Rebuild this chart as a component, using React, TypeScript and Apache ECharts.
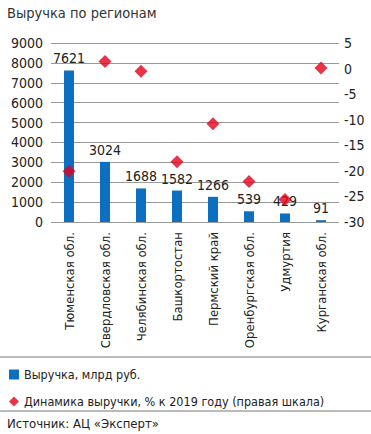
import React, { useEffect, useRef } from "react";
import * as echarts from "echarts";

const categories = [
  "Тюменская обл.",
  "Свердловская обл.",
  "Челябинская обл.",
  "Башкортостан",
  "Пермский край",
  "Оренбургская обл.",
  "Удмуртия",
  "Курганская обл.",
];
const revenue = [7621, 3024, 1688, 1582, 1266, 539, 429, 91];
const dynamics = [-20.1, 1.4, -0.5, -18.2, -10.8, -22.1, -25.6, 0.1];

const titleText = "Выручка по регионам";
const barName = "Выручка, млрд руб.";
const scatterName = "Динамика выручки, % к 2019 году (правая шкала)";
const sourceText = "Источник: АЦ «Эксперт»";

const FONT = '"Liberation Sans Narrow", "DejaVu Sans Condensed", "Roboto Condensed", "Roboto", sans-serif';

export default function App() {
  const ref = useRef<HTMLDivElement>(null);
  useEffect(() => {
    if (!ref.current) return;
    const chart = echarts.init(ref.current, undefined, { renderer: "svg" });
    chart.setOption({
      animation: false,
      backgroundColor: "#ffffff",
      textStyle: { fontFamily: FONT },
      title: {
        text: titleText,
        left: 7,
        top: 5,
        padding: 0,
        textStyle: { fontFamily: FONT, fontSize: 14.5, fontWeight: "normal", color: "#333" },
      },
      grid: { left: 51, right: 32, top: 43, bottom: 212 },
      legend: {
        orient: "vertical",
        left: 9,
        top: 368,
        padding: 0,
        itemGap: 14,
        itemWidth: 10,
        itemHeight: 10,
        textStyle: { fontFamily: FONT, fontSize: 12.5, color: "#222" },
        data: [
          { name: barName, icon: "rect" },
          { name: scatterName, icon: "diamond" },
        ],
      },
      xAxis: {
        type: "category",
        data: categories,
        axisLine: { show: false },
        axisTick: { show: false },
        axisLabel: {
          rotate: 90,
          fontSize: 13,
          color: "#222",
          margin: 10,
          fontFamily: FONT,
        },
      },
      yAxis: [
        {
          type: "value",
          min: 0,
          max: 9000,
          interval: 1000,
          axisLine: { show: false },
          axisTick: { show: false },
          axisLabel: {
            fontSize: 14,
            color: "#222",
            margin: 8,
            fontFamily: FONT,
            formatter: (v: number) => String(v),
          },
          splitLine: { lineStyle: { color: "#999999", width: 1 } },
        },
        {
          type: "value",
          min: -30,
          max: 5,
          interval: 5,
          position: "right",
          axisLine: { show: false },
          axisTick: { show: false },
          axisLabel: {
            fontSize: 14,
            color: "#222",
            margin: 5,
            fontFamily: FONT,
            formatter: (v: number) => String(v),
          },
          splitLine: { show: false },
        },
      ],
      series: [
        {
          name: barName,
          type: "bar",
          data: revenue,
          barWidth: 10,
          itemStyle: { color: "#0d6fbf" },
          label: {
            show: true,
            position: "top",
            fontSize: 14,
            color: "#222",
            distance: 5,
            fontFamily: FONT,
          },
        },
        {
          name: scatterName,
          type: "scatter",
          yAxisIndex: 1,
          data: dynamics,
          symbol: "diamond",
          symbolSize: 13,
          itemStyle: { color: "#e3001b" },
        },
      ],
      graphic: [
        {
          type: "line",
          shape: { x1: 0, y1: 357, x2: 371, y2: 357 },
          style: { stroke: "#777", lineWidth: 1 },
        },
        {
          type: "line",
          shape: { x1: 0, y1: 411, x2: 371, y2: 411 },
          style: { stroke: "#777", lineWidth: 1 },
        },
        {
          type: "text",
          left: 7,
          top: 417,
          style: { text: sourceText, fontSize: 13, fill: "#222", fontFamily: FONT },
        },
      ],
    });
    return () => chart.dispose();
  }, []);
  return (
    <div
      ref={ref}
      style={{ position: "fixed", left: 0, top: 0, width: 371, height: 434 }}
    />
  );
}
